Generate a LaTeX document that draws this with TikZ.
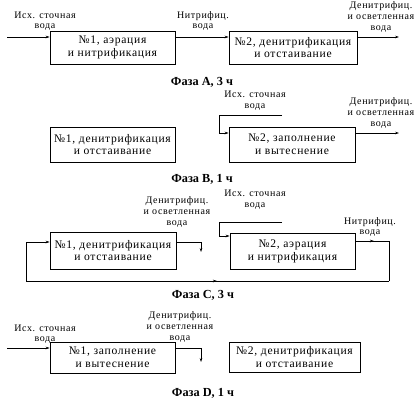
\documentclass[tikz,border=0pt]{standalone}
\usepackage{fontspec}
\setmainfont{Liberation Serif}
\newfontfamily\spacedserif[LetterSpace=6]{Liberation Serif}
\usetikzlibrary{arrows.meta,decorations.markings}
\begin{document}
\begin{tikzpicture}[x=1pt,y=-1pt,
  >={Stealth[length=4pt,width=2.6pt]},
  line width=0.6pt,
  tank/.style={draw,line width=0.6pt,align=center,inner sep=0pt,font=\spacedserif\fontsize{11.6}{12.8}\selectfont},
  lbl/.style={align=center,inner sep=0pt,font=\spacedserif\fontsize{10}{10.6}\selectfont},
  phase/.style={inner sep=0pt,font=\bfseries\fontsize{12.3}{13}\selectfont},
  midarrow/.style={postaction={decorate},decoration={markings,mark=at position #1 with {\arrow{<}}}},
  midarrowf/.style={postaction={decorate},decoration={markings,mark=at position #1 with {\arrow{>}}}}]
\useasboundingbox (0,0) rectangle (419,407);
% ---------- Phase A ----------
\node[tank,minimum width=125pt,minimum height=33pt] (A1) at (112.5,47.5) {№1, аэрация\\и нитрификация};
\node[tank,minimum width=128pt,minimum height=33pt] (A2) at (293,47.5) {№2, денитрификация\\и отстаивание};
\coordinate (Ain) at (7,37);
\coordinate (Aout) at (399,37);
\draw[->] (Ain) -- (Ain -| A1.west);
\draw[->] (Ain -| A1.east) -- (Ain -| A2.west);
\draw[->] (Ain -| A2.east) -- (Aout);
\node[lbl] (Al1) at (45,21) {Исх. сточная\\вода};
\node[lbl] (Al2) at (203,21) {Нитрифиц.\\вода};
\node[lbl] (Al3) at (381,17) {Денитрифиц.\\и осветленная\\вода};
\node[phase] (Ap) at (202,82) {Фаза А, 3 ч};
% ---------- Phase B ----------
\node[tank,minimum width=125pt,minimum height=35pt] (B1) at (112.5,144.5) {№1, денитрификация\\и отстаивание};
\node[tank,minimum width=126pt,minimum height=35pt] (B2) at (292,144.5) {№2, заполнение\\и вытеснение};
\coordinate (Bs) at (282,115);
\coordinate (Bc) at (219,115);
\coordinate (Bin) at (219,133);
\coordinate (Bout) at (399,133);
\draw[->] (Bs) -- (Bc) -- (Bin) -- (Bin -| B2.west);
\draw[->] (Bin -| B2.east) -- (Bout);
\node[lbl] (Bl1) at (255,100.5) {Исх. сточная\\вода};
\node[lbl] (Bl2) at (381,113) {Денитрифиц.\\и осветленная\\вода};
\node[phase] (Bp) at (202,179) {Фаза В, 1 ч};
% ---------- Phase C ----------
\node[tank,minimum width=126pt,minimum height=37pt] (C1) at (113,250.5) {№1, денитрификация\\и отстаивание};
\node[tank,minimum width=125pt,minimum height=36pt] (C2) at (292.5,251) {№2, аэрация\\и нитрификация};
\coordinate (CR1) at (389,241);
\coordinate (CR2) at (389,281);
\coordinate (CL2) at (26,281);
\coordinate (CL1) at (26,242);
\draw[midarrowf=0.55] (CR1 -| C2.east) -- (CR1);
\draw (CR1) -- (CR2);
\draw[midarrow=0.485] (CR2) -- (CL2);
\draw[->] (CL2) -- (CL1) -- (CL1 -| C1.west);
\coordinate (Cd1) at (201,242);
\coordinate (Cd2) at (201,252);
\draw[->] (CL1 -| C1.east) -- (Cd1) -- (Cd2);
\coordinate (Cs) at (282,222);
\coordinate (Cc) at (219,222);
\coordinate (Cin) at (219,236);
\draw[->] (Cs) -- (Cc) -- (Cin) -- (Cin -| C2.west);
\node[lbl] (Cl1) at (177,212) {Денитрифиц.\\и осветленная\\вода};
\node[lbl] (Cl2) at (255,199.5) {Исх. сточная\\вода};
\node[lbl] (Cl3) at (370,227) {Нитрифиц.\\вода};
\node[phase] (Cp) at (203,295) {Фаза С, 3 ч};
% ---------- Phase D ----------
\node[tank,minimum width=125pt,minimum height=31pt] (D1) at (112.5,357.5) {№1, заполнение\\и вытеснение};
\node[tank,minimum width=131pt,minimum height=30pt] (D2) at (294.5,357) {№2, денитрификация\\и отстаивание};
\coordinate (Din) at (7,348);
\draw[->] (Din) -- (Din -| D1.west);
\coordinate (Dd1) at (201,348);
\coordinate (Dd2) at (201,362);
\draw[->] (Din -| D1.east) -- (Dd1) -- (Dd2);
\node[lbl] (Dl1) at (45,334) {Исх. сточная\\вода};
\node[lbl] (Dl2) at (180,327) {Денитрифиц.\\и осветленная\\вода};
\node[phase] (Dp) at (203,393) {Фаза D, 1 ч};
\end{tikzpicture}
\end{document}
